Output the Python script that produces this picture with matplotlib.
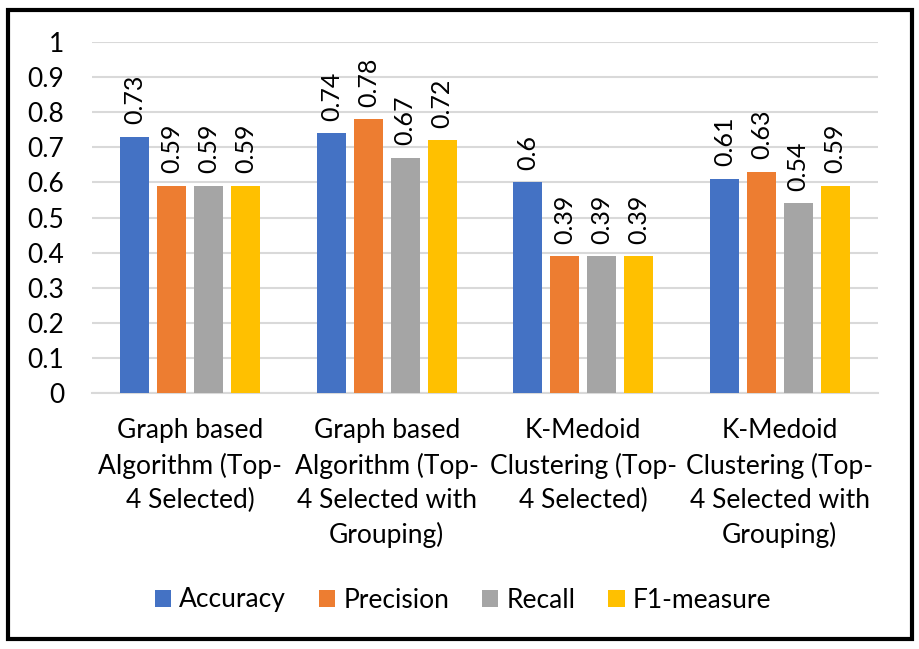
import matplotlib
matplotlib.use("Agg")
import matplotlib.pyplot as plt
from matplotlib.patches import Rectangle
import numpy as np

plt.rcParams['font.family'] = ['Lato', 'DejaVu Sans']

categories = ["Graph based\nAlgorithm (Top-\n4 Selected)",
              "Graph based\nAlgorithm (Top-\n4 Selected with\nGrouping)",
              "K-Medoid\nClustering (Top-\n4 Selected)",
              "K-Medoid\nClustering (Top-\n4 Selected with\nGrouping)"]
series = ["Accuracy", "Precision", "Recall", "F1-measure"]
accuracy = [0.73, 0.74, 0.6, 0.61]
precision = [0.59, 0.78, 0.39, 0.63]
recall = [0.59, 0.67, 0.39, 0.54]
f1 = [0.59, 0.72, 0.39, 0.59]
values = [accuracy, precision, recall, f1]
colors = ["#4472C4", "#ED7D31", "#A5A5A5", "#FFC000"]
yticks = [0, 0.1, 0.2, 0.3, 0.4, 0.5, 0.6, 0.7, 0.8, 0.9, 1]
ytick_labels = ["0", "0.1", "0.2", "0.3", "0.4", "0.5", "0.6", "0.7", "0.8", "0.9", "1"]

fig = plt.figure(figsize=(9.2, 6.49), dpi=100)
W, H = 920, 649
ax = fig.add_axes([92 / W, 1 - 393 / H, 786 / W, 351 / H])

x = np.arange(len(categories))
step = 0.188
width = 0.148
for j, (name, vals, c) in enumerate(zip(series, values, colors)):
    pos = x + (j - 1.5) * step
    ax.bar(pos, vals, width=width, color=c, label=name, zorder=3)
    for p, v in zip(pos, vals):
        ax.annotate(f"{v:g}", (p, v), xytext=(0, 9), textcoords="offset points",
                    rotation=90, ha="center", va="bottom", fontsize=18, color="#000000")

ax.set_xlim(-0.5, 3.5)
ax.set_ylim(0, 1)
ax.set_yticks(yticks)
ax.set_yticklabels(ytick_labels, fontsize=19)
ax.set_xticks(x)
ax.set_xticklabels(categories, fontsize=19, linespacing=1.45, va="top")
ax.tick_params(axis="y", length=0, pad=20)
ax.tick_params(axis="x", length=0, pad=18)
ax.yaxis.grid(True, color="#D9D9D9", linewidth=1.5, zorder=0)
for s in ["top", "right", "left"]:
    ax.spines[s].set_visible(False)
ax.spines["bottom"].set_color("#D9D9D9")
ax.spines["bottom"].set_linewidth(1.5)

fig.legend(loc="center", bbox_to_anchor=(463 / W, 1 - 600 / H), ncol=4,
           frameon=False, fontsize=19, handlelength=0.62, handleheight=0.62,
           handletextpad=0.3, columnspacing=1.25)

fig.patches.append(Rectangle((8 / W, 1 - 639 / H), 904 / W, 629 / H,
                             transform=fig.transFigure, fill=False,
                             edgecolor="black", linewidth=3))

fig.savefig("out.png", dpi=100)
